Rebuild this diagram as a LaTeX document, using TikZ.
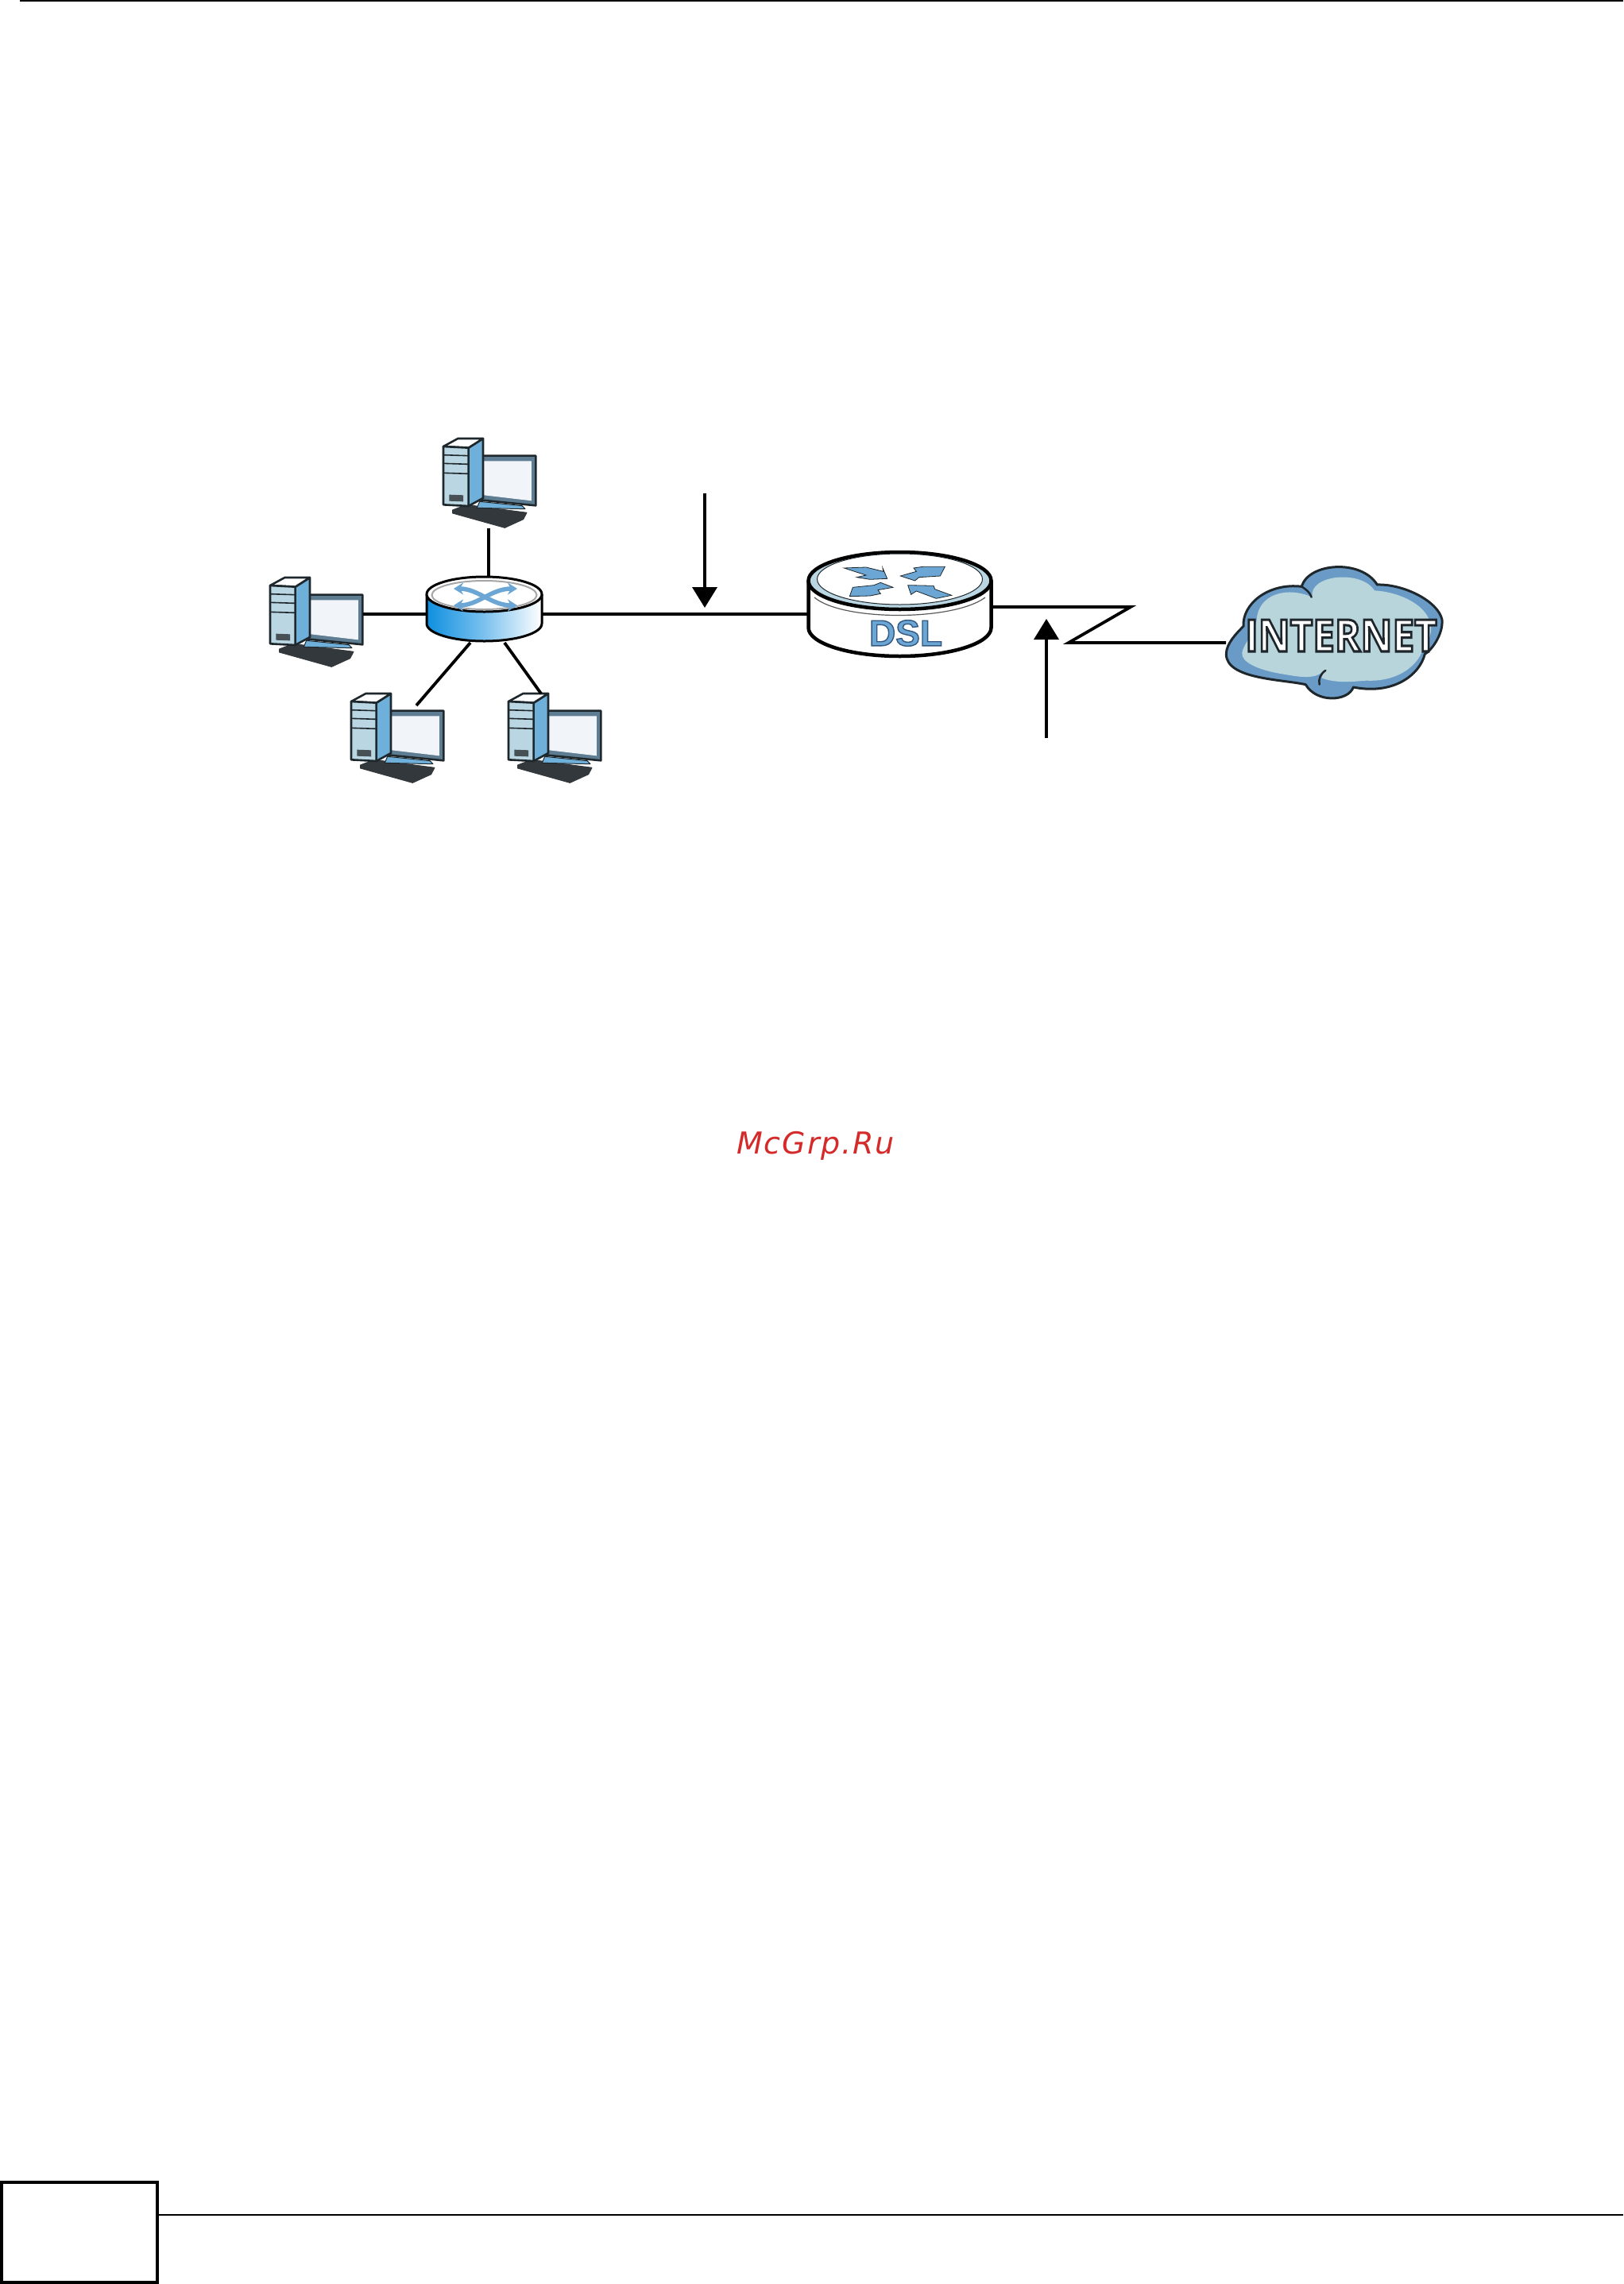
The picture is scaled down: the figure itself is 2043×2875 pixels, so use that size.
\documentclass[tikz,border=0pt]{standalone}
\usepackage{fontspec}
\setmainfont{Liberation Sans}
\newfontfamily\wmfont[LetterSpace=5]{DejaVu Sans}
\newfontfamily\cloudfont{Open Sans}
\usetikzlibrary{arrows.meta}
\definecolor{dk}{HTML}{1E272C}
\definecolor{towerf}{HTML}{B9D6E2}
\definecolor{towers}{HTML}{6FB0DA}
\definecolor{screenc}{HTML}{F1F4F9}
\definecolor{kbd}{HTML}{33383C}
\definecolor{framec}{HTML}{5E7C92}
\definecolor{arrowb}{HTML}{6BA6D4}
\definecolor{cloudo}{HTML}{6A9BC6}
\definecolor{cloudi}{HTML}{B8D5DC}
\definecolor{hubl}{HTML}{0F8FE0}
\definecolor{wm}{HTML}{D42A2A}
\tikzset{
  conn/.style={draw=black,line width=3.8pt},
  arrowconn/.style={conn,-{Triangle[length=26pt,width=31pt]}},
  rulethin/.style={draw=black,line width=2pt},
  pics/computer/.style={code={
    \begin{scope}[scale=.3333,line join=round]
    % keyboard
    \fill[kbd,draw=kbd,line width=1pt] (38,270)--(90,250)--(318,280)--(305,305)--(235,337)--(38,282)--cycle;
    % monitor
    \fill[framec,draw=dk,line width=2.6pt] (140,65)--(352,65)--(352,253)--(140,232)--cycle;
    \fill[screenc] (140,85)--(336,85)--(336,235)--(140,212)--cycle;
    \fill[towers,draw=dk,line width=1pt] (140,238)--(300,254)--(312,266)--(130,262)--cycle;
    % tower
    \fill[towers,draw=dk,line width=2.6pt] (98,35)--(153,0)--(153,225)--(98,255)--cycle;
    \fill[white,draw=dk,line width=2.6pt] (3,30)--(58,0)--(153,0)--(98,35)--cycle;
    \fill[towerf,draw=dk,line width=2.6pt] (3,30)--(98,35)--(98,255)--(3,250)--cycle;
    \draw[dk,line width=1.6pt] (3,62)--(98,65) (3,94)--(98,97) (3,130)--(98,133);
    \fill[kbd!85!towerf] (25,212)--(78,214)--(78,238)--(25,236)--cycle;
    \end{scope}
  }}
}
\begin{document}
\begin{tikzpicture}[x=1pt,y=-1pt]
\useasboundingbox (0,0) rectangle (2043,2875);
\fill[white] (0,0) rectangle (2043,2875);
% page furniture
\coordinate (topL) at (25,1);
\coordinate (topR) at (2043,1);
\draw[rulethin] (topL)--(topR);
\node[draw=black,line width=4pt,outer sep=0pt,minimum width=196pt,minimum height=126pt,inner sep=0pt,anchor=north west] (pagebox) at (2,2747) {};
\coordinate (ruleR) at (2043,2788);
\draw[rulethin] (pagebox.east |- ruleR)--(ruleR);
% computers
\pic (pcTop) at (557,552) {computer};
\pic (pcLeft) at (339,727) {computer};
\pic (pcBL) at (441,873) {computer};
\pic (pcBR) at (639,873) {computer};
% hub
\shade[left color=hubl,right color=white,middle color=hubl!55] (537,748)--(537,785) arc[start angle=180,end angle=0,x radius=72.5,y radius=22]--(682,748)--cycle;
\draw[black,line width=3pt] (537,748)--(537,785) arc[start angle=180,end angle=0,x radius=72.5,y radius=22]--(682,748);
\filldraw[fill=white,draw=black,line width=3pt] (609.5,748) ellipse[x radius=72.5,y radius=22];
\draw[gray!70,line width=2pt] (609.5,749) ellipse[x radius=66,y radius=18];
\draw[arrowb,line width=5.5pt,{Stealth[length=12pt,width=15pt]}-{Stealth[length=12pt,width=15pt]}] (571,741) .. controls (602,741) and (618,762) .. (651,762);
\draw[arrowb,line width=5.5pt,{Stealth[length=12pt,width=15pt]}-{Stealth[length=12pt,width=15pt]}] (571,762) .. controls (602,762) and (618,741) .. (651,741);
\coordinate (hubTop) at (615,725);
\coordinate (hubL) at (537,773);
\coordinate (hubR) at (682,773);
\coordinate (hubBL) at (592,809);
\coordinate (hubBR) at (635,809);
\coordinate (pcTopEnd) at (615,665);
\coordinate (pcLeftEnd) at (457,773);
\coordinate (pcBLEnd) at (524,888);
\coordinate (pcBREnd) at (681,873);
\draw[conn] (pcTopEnd)--(hubTop);
\draw[conn] (pcLeftEnd)--(hubL);
\draw[conn] (hubBL)--(pcBLEnd);
\draw[conn] (hubBR)--(pcBREnd);
% DSL router
\filldraw[fill=white,draw=black,line width=4.5pt] (1017.5,731)--(1017.5,790) arc[start angle=180,end angle=0,x radius=115,y radius=36]--(1247.5,731);
\filldraw[fill=towerf,draw=black,line width=4.5pt] (1132.5,731) ellipse[x radius=115,y radius=36];
\fill[white,draw=dk,line width=1pt] (1132.5,729) ellipse[x radius=104,y radius=32];
\draw[gray!70!black,line width=1.2pt] (1025,752) .. controls (1060,782) and (1200,782) .. (1240,752);
\begin{scope}[shift={(980,660)},scale=.3333]
\filldraw[fill=arrowb,draw=dk,line width=.8pt] (247,165)--(330,162)--(395,178)--(393,165)--(410,205)--(345,208)--(295,200)--(330,192)--cycle;
\filldraw[fill=arrowb,draw=dk,line width=.8pt] (628,160)--(545,160)--(510,165)--(520,178)--(460,195)--(515,213)--(530,200)--(610,195)--cycle;
\filldraw[fill=arrowb,draw=dk,line width=.8pt] (268,272)--(345,270)--(385,262)--(375,248)--(432,238)--(385,220)--(360,230)--(280,238)--cycle;
\filldraw[fill=arrowb,draw=dk,line width=.8pt] (653,268)--(590,245)--(585,232)--(488,230)--(500,265)--(520,252)--(595,280)--cycle;
\end{scope}
\node[inner sep=0pt,font=\bfseries\fontsize{46pt}{46pt}\selectfont] (dslText) at (1140,797) {\special{pdf:code q 2 Tr 1.4 w 0.2 0.35 0.5 RG 0.42 0.65 0.83 rg}DSL\special{pdf:code Q}};
\coordinate (dslL) at (1017,773);
\draw[conn] (hubR)--(dslL);
% WAN zigzag
\coordinate (dslR) at (1248,764);
\coordinate (zigA) at (1423,764);
\coordinate (zigB) at (1345,809);
\coordinate (cloudL) at (1543,809);
\draw[conn,line join=miter] (dslR)--(zigA)--(zigB)--(cloudL);
% cloud
\begin{scope}[shift={(1500,680)},scale=.3333]
\filldraw[fill=cloudo,draw=dk,line width=3pt,line join=round] (195,325) .. controls (190,240) and (290,160) .. (415,175) .. controls (440,85) and (640,70) .. (700,168) .. controls (800,165) and (930,230) .. (945,300) .. controls (950,360) and (900,420) .. (880,430) .. controls (860,510) and (760,585) .. (610,555) .. controls (590,610) and (470,615) .. (430,545) .. controls (340,525) and (130,525) .. (130,430) .. controls (130,390) and (170,350) .. (195,325) -- cycle;
\fill[cloudi] (245,300) .. controls (250,210) and (350,170) .. (455,215) .. controls (440,130) and (640,110) .. (690,190) .. controls (780,195) and (880,240) .. (900,310) .. controls (915,360) and (880,400) .. (860,440) .. controls (830,490) and (760,535) .. (660,530) .. controls (600,535) and (540,540) .. (490,520) -- (500,490) .. controls (470,530) and (400,515) .. (340,505) .. controls (250,490) and (185,460) .. (190,425) .. controls (195,390) and (240,350) .. (245,300) -- cycle;
\draw[dk,line width=2.5pt,line cap=round] (415,175) .. controls (430,185) and (445,195) .. (452,215);
\draw[dk,line width=2.5pt,line cap=round] (505,492) .. controls (485,505) and (478,525) .. (482,545);
\end{scope}
\node[inner sep=0pt,xscale=.88,transform shape,font=\cloudfont\bfseries\fontsize{56pt}{56pt}\selectfont] (inetText) at (1688,800) {\special{pdf:code q 2 Tr 3 w 0.12 0.15 0.17 RG 1 1 1 rg}INTERNET\special{pdf:code Q}};
% bottom arrow
\coordinate (arrBotS) at (1317,929);
\coordinate (arrBotT) at (1317,779);
\draw[arrowconn] (arrBotS)--(arrBotT);
% top arrow
\coordinate (arrTopS) at (887,621);
\coordinate (arrTopT) at (887,765);
\draw[arrowconn] (arrTopS)--(arrTopT);
% watermark
\node[anchor=base west,inner sep=0pt,text=wm,font=\wmfont\itshape\fontsize{38pt}{38pt}\selectfont] (wmark) at (927,1452) {McGrp.Ru};
\end{tikzpicture}
\end{document}
